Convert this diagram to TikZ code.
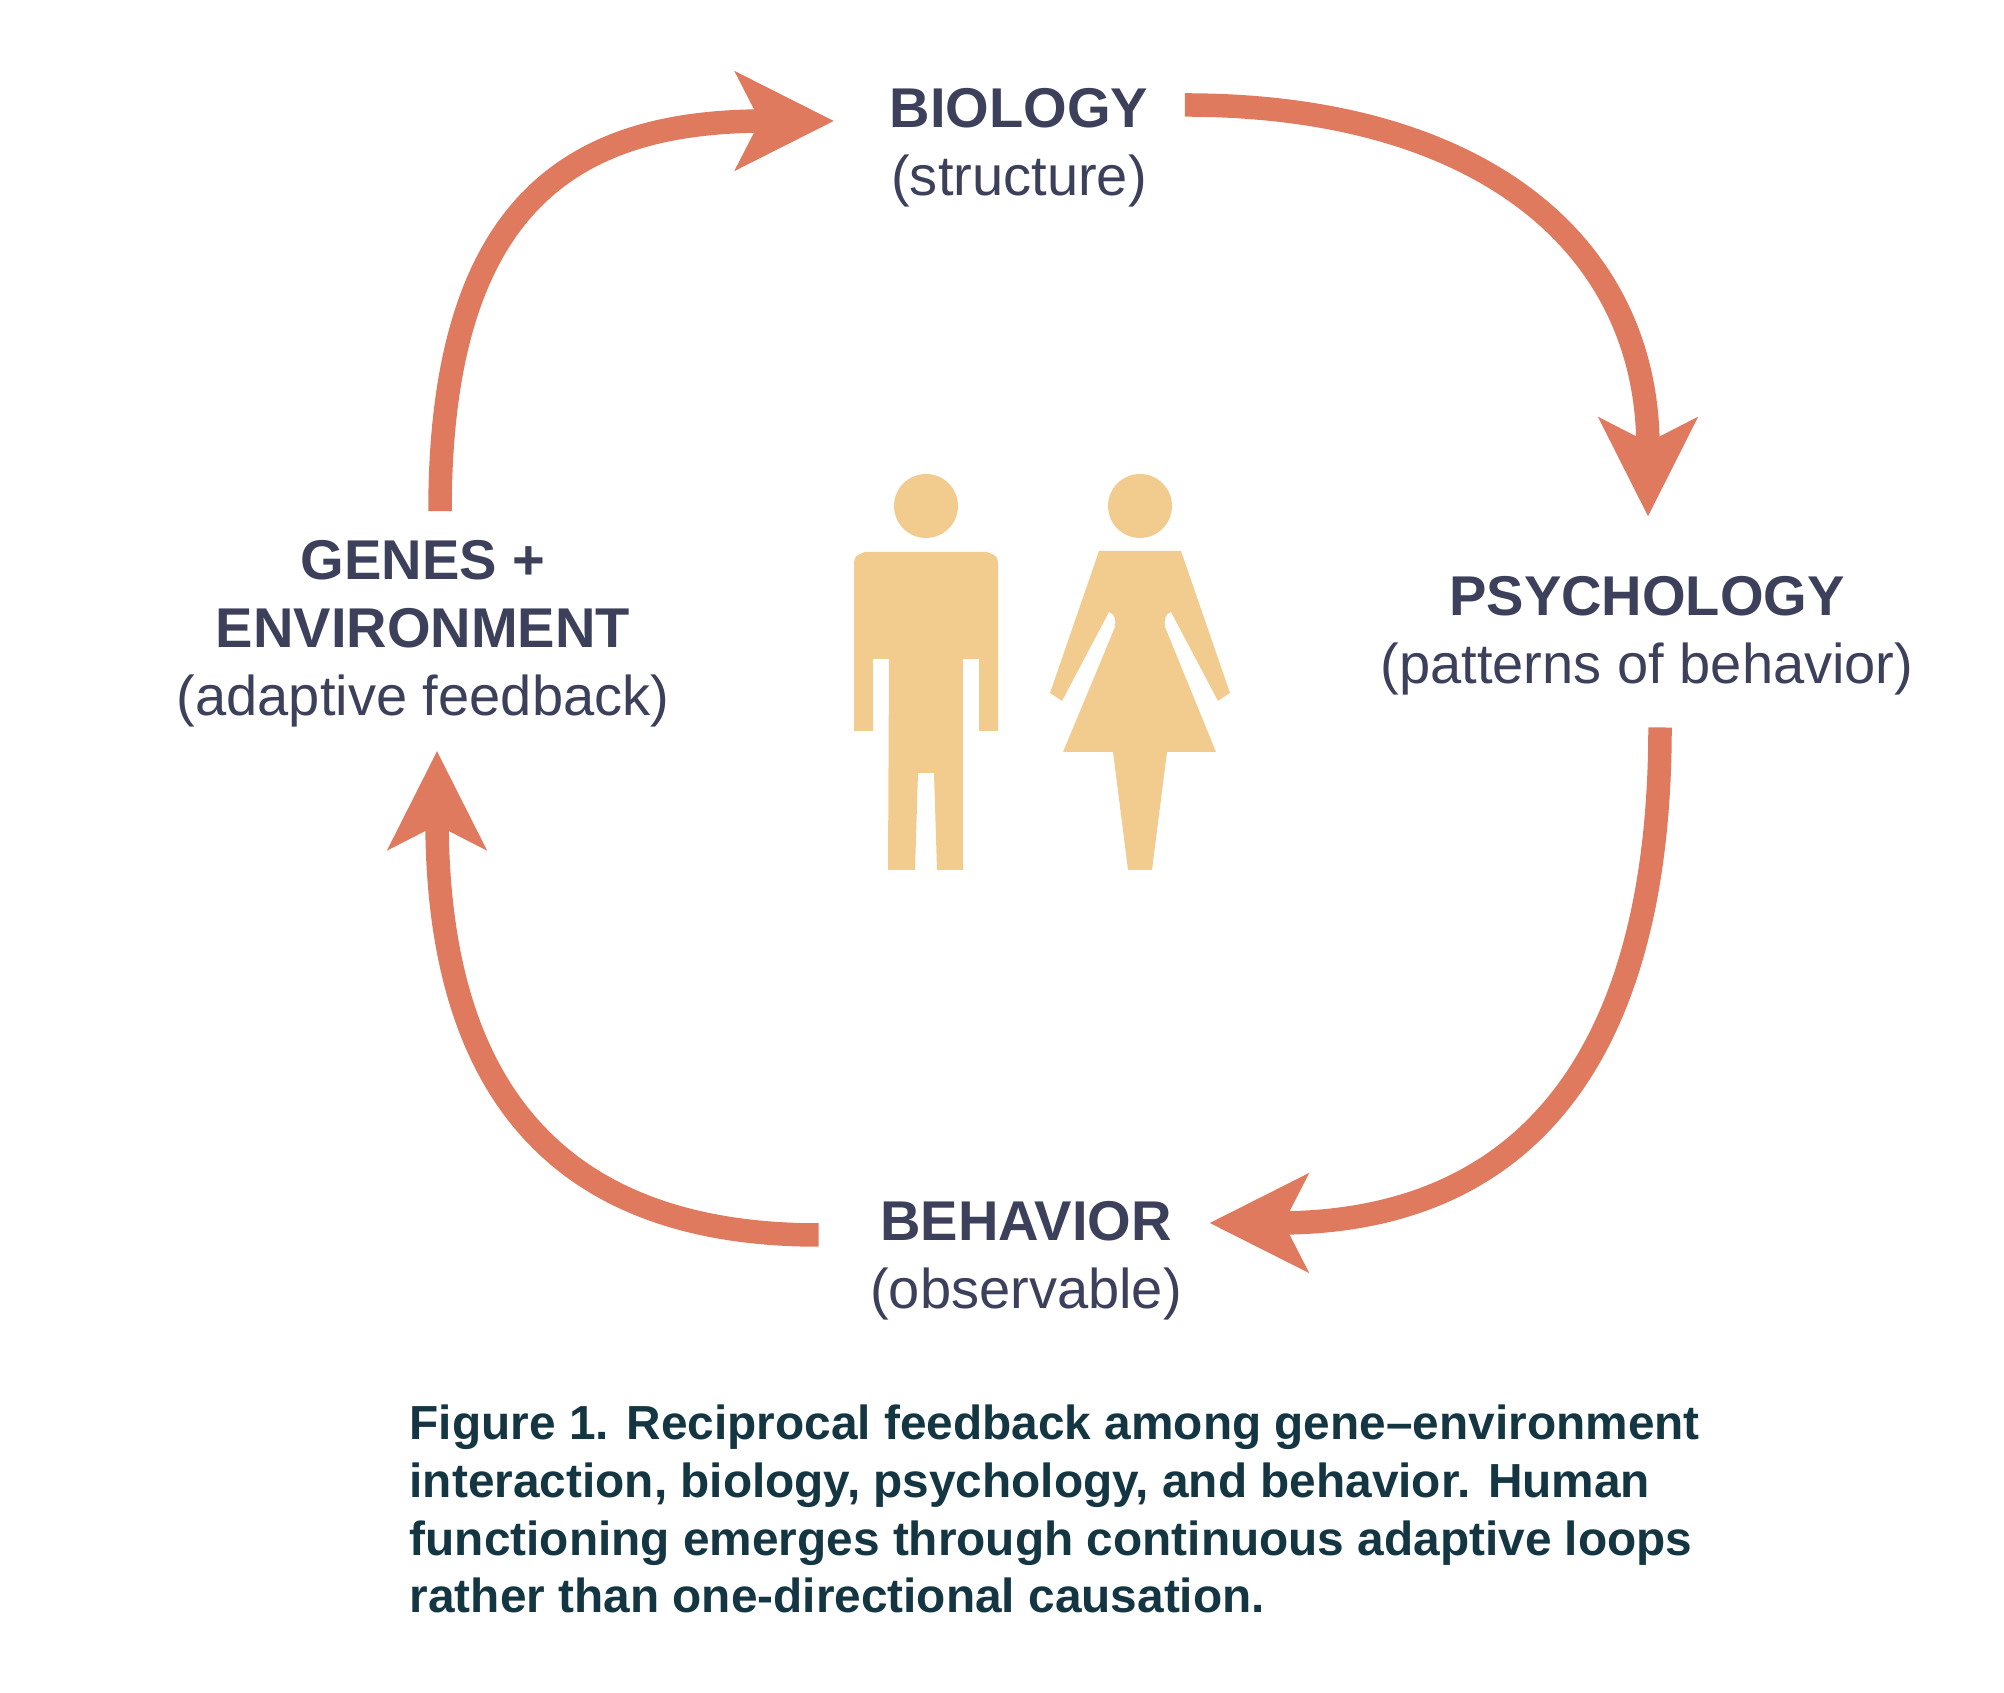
\documentclass[tikz,border=0pt]{standalone}
\usepackage{fontspec}
\setmainfont{Liberation Sans}
\usepackage{xcolor}
\usetikzlibrary{arrows.meta}
\definecolor{loopred}{HTML}{E07A5F}
\definecolor{figsand}{HTML}{F2CC8F}
\definecolor{labelink}{HTML}{3D405B}
\definecolor{captionink}{HTML}{143642}
\tikzset{
  partlabel/.style={align=center,inner sep=0pt,text=labelink,font=\fontsize{15.95}{19.3}\selectfont},
  looparrow/.style={loopred,line width=0.235cm,-{Stealth[length=0.98cm,width=0.97cm,inset=0.24cm]}},
}
\begin{document}
\begin{tikzpicture}
\useasboundingbox (0,0) rectangle (20.04,16.92);
\node[partlabel] (biology) at (10.19,15.44) {\textbf{BIOLOGY}\\(structure)};
\node[partlabel] (psychology) at (16.47,10.565) {\textbf{PSYCHOLOGY}\\(patterns of behavior)};
\node[partlabel] (behavior) at (10.26,4.31) {\textbf{BEHAVIOR}\\(observable)};
\node[partlabel] (genes) at (4.23,10.58) {\textbf{GENES +}\\\textbf{ENVIRONMENT}\\(adaptive feedback)};
\draw[looparrow] ([shift={(0.17,0.29)}]genes.north) .. controls +(0,3.18) and +(-2.51,0) .. ([shift={(-0.55,0.27)}]biology.west);
\draw[looparrow] ([shift={(0.36,0.43)}]biology.east) .. controls +(2.97,0) and +(0,2.71) .. ([shift={(0.01,0.59)}]psychology.north);
\draw[looparrow] ([shift={(0.13,-0.32)}]psychology.south) .. controls +(0,-3.22) and +(3.21,0) .. ([shift={(0.27,0.38)}]behavior.east);
\draw[looparrow] ([shift={(-0.51,0.26)}]behavior.west) .. controls +(-2.59,0) and +(0,-3.40) .. ([shift={(0.14,-0.23)}]genes.south);
% man
\fill[figsand] (9.26,11.86) circle (0.32);
\fill[figsand] (8.54,11.29) .. controls (8.55,11.36) .. (8.65,11.40) -- (9.87,11.40) .. controls (9.97,11.36) .. (9.98,11.29) -- (9.98,9.61) -- (9.79,9.61) -- (9.79,10.33) -- (9.63,10.33) -- (9.63,8.22) -- (9.37,8.22) -- (9.34,9.19) -- (9.18,9.19) -- (9.15,8.22) -- (8.88,8.22) -- (8.89,10.33) -- (8.73,10.33) -- (8.73,9.61) -- (8.54,9.61) -- cycle;
% woman
\fill[figsand] (11.40,11.86) circle (0.32);
\fill[figsand] (10.99,11.41) -- (11.81,11.41) -- (12.30,9.99) -- (12.18,9.91) -- (11.71,10.80) .. controls (11.65,10.78) and (11.64,10.72) .. (11.65,10.65) -- (12.16,9.40) -- (11.67,9.40) -- (11.52,8.22) -- (11.28,8.22) -- (11.13,9.40) -- (10.63,9.40) -- (11.15,10.65) .. controls (11.16,10.72) and (11.15,10.78) .. (11.09,10.80) -- (10.62,9.91) -- (10.50,9.99) -- cycle;
% caption
\node[anchor=north west,align=left,inner sep=0pt,text=captionink,font=\fontsize{13.6}{16.4}\selectfont\bfseries] (caption) at (4.09,2.875) {Figure 1. Reciprocal feedback among gene--environment\\interaction, biology, psychology, and behavior. Human\\functioning emerges through continuous adaptive loops\\rather than one-directional causation.};
\end{tikzpicture}
\end{document}
